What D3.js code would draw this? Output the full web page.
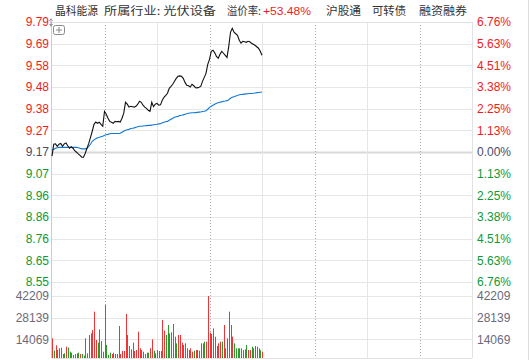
<!DOCTYPE html>
<html>
<head>
<meta charset="utf-8">
<script src="https://cdn.jsdelivr.net/npm/d3@7/dist/d3.min.js"></script>
<style>
  html, body { margin: 0; padding: 0; background: #fff; }
  svg { display: block; }
</style>
</head>
<body>
<div id="chart"></div>
<script>
'use strict'

// header texts
const stockName = '晶科能源'
const industry = '所属行业: 光伏设备'
const premiumLabel = '溢价率:'
const premiumValue = '+53.48%'
const tags = ['沪股通', '可转债', '融资融券']

// axis labels, top to bottom
const priceLabels = ['9.79', '9.69', '9.58', '9.48', '9.38', '9.27', '9.17', '9.07', '8.96', '8.86', '8.76', '8.65', '8.55']
const pctLabels = ['6.76%', '5.63%', '4.51%', '3.38%', '2.25%', '1.13%', '0.00%', '1.13%', '2.25%', '3.38%', '4.51%', '5.63%', '6.76%']
const volLabels = ['42209', '28139', '14069']
const prevClose = 9.17
const priceMin = 8.55, priceMax = 9.79
const volMax = 42209

// one point per minute, 9:30 -> 11:30
const prices = [
  9.150, 9.207, 9.209, 9.197, 9.207, 9.211, 9.197, 9.209, 9.213, 9.200,
  9.188, 9.195, 9.188, 9.176, 9.169, 9.161, 9.154, 9.145, 9.145, 9.164,
  9.188, 9.211, 9.240, 9.269, 9.302, 9.313, 9.307, 9.312, 9.302, 9.293,
  9.364, 9.350, 9.331, 9.316, 9.312, 9.307, 9.316, 9.314, 9.316, 9.313,
  9.331, 9.355, 9.407, 9.398, 9.384, 9.388, 9.386, 9.384, 9.388, 9.398,
  9.412, 9.407, 9.393, 9.384, 9.378, 9.369, 9.364, 9.407, 9.386, 9.398,
  9.402, 9.393, 9.395, 9.417, 9.431, 9.440, 9.450, 9.474, 9.483, 9.493,
  9.507, 9.521, 9.531, 9.533, 9.531, 9.521, 9.502, 9.488, 9.486, 9.480,
  9.493, 9.486, 9.477, 9.476, 9.479, 9.483, 9.507, 9.526, 9.545, 9.588,
  9.612, 9.650, 9.655, 9.643, 9.626, 9.617, 9.636, 9.650, 9.641, 9.631,
  9.621, 9.674, 9.741, 9.760, 9.741, 9.734, 9.727, 9.703, 9.689, 9.698,
  9.696, 9.693, 9.698, 9.696, 9.689, 9.684, 9.679, 9.672, 9.665, 9.650,
  9.631
]
const avgPrices = [
  9.178, 9.183, 9.188, 9.190, 9.192, 9.192, 9.192, 9.192, 9.192, 9.192,
  9.192, 9.192, 9.192, 9.192, 9.192, 9.190, 9.188, 9.185, 9.185, 9.185,
  9.188, 9.197, 9.207, 9.221, 9.228, 9.233, 9.238, 9.240, 9.243, 9.245,
  9.250, 9.252, 9.254, 9.257, 9.258, 9.258, 9.258, 9.258, 9.258, 9.259,
  9.264, 9.269, 9.274, 9.276, 9.278, 9.282, 9.283, 9.285, 9.288, 9.290,
  9.293, 9.293, 9.294, 9.295, 9.296, 9.297, 9.297, 9.298, 9.300, 9.301,
  9.302, 9.304, 9.305, 9.309, 9.312, 9.314, 9.316, 9.321, 9.326, 9.331,
  9.336, 9.338, 9.340, 9.344, 9.345, 9.347, 9.350, 9.352, 9.355, 9.356,
  9.357, 9.357, 9.358, 9.359, 9.360, 9.361, 9.363, 9.364, 9.367, 9.374,
  9.383, 9.388, 9.393, 9.398, 9.402, 9.405, 9.408, 9.409, 9.412, 9.413,
  9.415, 9.419, 9.426, 9.431, 9.434, 9.437, 9.439, 9.443, 9.444, 9.445,
  9.446, 9.447, 9.448, 9.449, 9.449, 9.450, 9.451, 9.453, 9.454, 9.455,
  9.456
]
const volumes = [
  14720, 6700, 10170, 7140, 8230, 8660, 4550, 5000, 9310, 8660,
  6060, 5410, 3900, 4550, 4980, 5410, 4550, 4550, 3500, 14720,
  4980, 16880, 17970, 20130, 32040, 13640, 11910, 20560, 12990, 6060,
  36370, 10390, 4000, 5410, 4550, 5410, 4550, 4550, 22730, 4550,
  6490, 6490, 30520, 16880, 9740, 7580, 11910, 6490, 7140, 19050,
  8230, 7140, 6060, 4550, 5410, 5410, 8230, 14070, 6700, 4980,
  7140, 6490, 6490, 26630, 19700, 16880, 23380, 17970, 18620, 24030,
  15800, 11470, 16880, 16880, 11910, 10390, 11470, 8230, 7140, 8230,
  6060, 6700, 7140, 7140, 6700, 11470, 11470, 12550, 12550, 42209,
  18400, 17530, 21210, 15800, 9740, 11470, 12550, 12550, 23380, 8230,
  14720, 32040, 23380, 15800, 11470, 8230, 8230, 8230, 8230, 7140,
  7580, 10390, 7140, 7140, 9310, 8230, 9740, 9310, 8230, 7000,
  6000
]
// u = up tick (red), d = down tick (green)
const volDir = (
  'ududduddud' + 'dduddduddd' + 'uuuuuuduud' + 'udddudduuu' +
  'uuuddduuuu' + 'uddudduudd' + 'uuuuudduud' + 'uduuudduuu' +
  'ududuuuduu' + 'uuudduudud' + 'uuuuddddud' + 'uduuddudud' + 'u'
).split('')

const W = 531, H = 360
const plotL = 52, plotR = 472
const priceTop = 22, priceBot = 282
const volTop = 296, volZero = 361, volBot = 358

const svg = d3.select('#chart').append('svg')
  .attr('width', W).attr('height', H)
  .style('font-family', '"Liberation Sans", Arial, sans-serif')

svg.append('rect').attr('width', W).attr('height', H).attr('fill', '#fff')

const x = d3.scaleLinear().domain([0, 240]).range([plotL, plotR])
const y = d3.scaleLinear().domain([priceMin, priceMax]).range([priceBot, priceTop])
const yv = d3.scaleLinear().domain([0, volMax]).range([volZero, volTop])

const RED = '#f01c1c', GREEN = '#0d9a35', MID = '#4b4b68'
const gridColor = '#e6e6e6'

// ---- header, each piece squeezed to the width it takes in the original
const header = svg.append('g').attr('font-family', '"Noto Sans CJK SC", sans-serif')
  .attr('font-size', 11.5).attr('fill', '#333')
const headPiece = (txt, x0, w, fill, fam) => header.append('text')
  .attr('x', x0).attr('y', 15).attr('textLength', w).attr('lengthAdjust', 'spacingAndGlyphs')
  .attr('fill', fill || null).attr('font-family', fam || null).text(txt)
headPiece(stockName, 55, 43)
headPiece(industry, 104, 112)
headPiece(premiumLabel, 227, 34)
headPiece(premiumValue, 263, 48, RED, '"Liberation Sans", Arial, sans-serif')
headPiece(tags[0], 326, 35)
headPiece(tags[1], 372, 34)
headPiece(tags[2], 419, 48)

// ---- price grid
const nPrice = priceLabels.length
const tickVal = k => priceMax - k * (priceMax - priceMin) / (nPrice - 1)
const grid = svg.append('g')
for (let k = 0; k < nPrice; k++) {
  const yy = Math.round(y(tickVal(k))) + 0.5
  const zero = k === 6
  grid.append('line')
    .attr('x1', plotL).attr('x2', plotR).attr('y1', yy).attr('y2', yy)
    .attr('stroke', zero ? '#d9d9d9' : gridColor)
    .attr('stroke-width', zero ? 2 : 1)
}
// volume grid
const nVol = volLabels.length
for (let k = 0; k < nVol; k++) {
  const yy = Math.round(yv(volMax * (nVol - k) / nVol)) + 0.5
  grid.append('line')
    .attr('x1', plotL).attr('x2', plotR).attr('y1', yy).attr('y2', yy)
    .attr('stroke', gridColor)
}
// vertical time lines, every 30 minutes
for (let m = 30; m < 240; m += 30) {
  const xx = Math.round(x(m)) + 0.5
  const dotted = (m / 30) % 2 === 1
  grid.append('line')
    .attr('x1', xx).attr('x2', xx).attr('y1', priceTop).attr('y2', volBot)
    .attr('stroke', dotted ? '#aaa' : gridColor)
    .attr('stroke-dasharray', dotted ? '1,2' : null)
}
// borders
const border = svg.append('g').attr('stroke', '#ccc').attr('fill', 'none')
border.append('line').attr('x1', plotL - 0.5).attr('x2', plotL - 0.5).attr('y1', priceTop).attr('y2', volBot)
border.append('line').attr('x1', plotR + 0.5).attr('x2', plotR + 0.5).attr('y1', priceTop).attr('y2', volBot)
  .attr('stroke', '#e2e2e2')
border.append('line').attr('x1', plotL).attr('x2', plotR).attr('y1', priceTop + 0.5).attr('y2', priceTop + 0.5)
  .attr('stroke', '#e2e2e2')
border.append('line').attr('x1', plotL).attr('x2', plotR).attr('y1', volBot + 0.5).attr('y2', volBot + 0.5)
  .attr('stroke', '#e2e2e2')
border.append('line').attr('x1', W - 2.5).attr('x2', W - 2.5).attr('y1', 0).attr('y2', H)
  .attr('stroke', '#ddd')

// ---- axis labels
const labels = svg.append('g').attr('font-size', 12)
priceLabels.forEach((t, k) => {
  const yy = y(tickVal(k))
  const c = k < 6 ? RED : (k === 6 ? MID : GREEN)
  labels.append('text').attr('x', 49).attr('y', yy).attr('dy', '0.36em')
    .attr('text-anchor', 'end').attr('fill', c).text(t)
})
pctLabels.forEach((t, k) => {
  const yy = y(tickVal(k))
  const c = k < 6 ? RED : (k === 6 ? MID : GREEN)
  labels.append('text').attr('x', 477).attr('y', yy).attr('dy', '0.36em')
    .attr('fill', c).text(t)
})
volLabels.forEach((t, k) => {
  const yy = yv(volMax * (nVol - k) / nVol)
  labels.append('text').attr('x', 49).attr('y', yy).attr('dy', '0.36em')
    .attr('text-anchor', 'end').attr('fill', '#6a6a7a').text(t)
  labels.append('text').attr('x', 477).attr('y', yy).attr('dy', '0.36em')
    .attr('fill', '#6a6a7a').text(t)
})

// ---- volume bars
svg.append('clipPath').attr('id', 'volclip').append('rect')
  .attr('x', plotL).attr('y', volTop - 2).attr('width', plotR - plotL).attr('height', volBot - volTop + 2)
svg.append('g').attr('clip-path', 'url(#volclip)')
  .selectAll('rect').data(volumes).join('rect')
  .attr('x', (d, i) => Math.round(x(i)))
  .attr('width', 1)
  .attr('y', d => yv(d))
  .attr('height', d => volZero - yv(d))
  .attr('fill', (d, i) => volDir[i] === 'd' ? '#2a9a2a' : '#ee3434')

// ---- lines
const line = d3.line().x((d, i) => x(i)).y(d => y(d))
svg.append('path').datum(avgPrices).attr('d', line)
  .attr('fill', 'none').attr('stroke', '#1278d0').attr('stroke-width', 1.1)
svg.append('path').datum(prices).attr('d', line)
  .attr('fill', 'none').attr('stroke', '#111').attr('stroke-width', 1.1)

// ---- small icons
const icon = svg.append('g').attr('fill', 'none').attr('stroke', '#888')
icon.append('rect').attr('x', 53.5).attr('y', 25.5).attr('width', 11).attr('height', 9).attr('rx', 2)
icon.append('line').attr('x1', 56).attr('x2', 62).attr('y1', 30).attr('y2', 30)
icon.append('line').attr('x1', 59).attr('x2', 59).attr('y1', 27).attr('y2', 33)
svg.append('path').attr('d', 'M51,18 l-2,3 h4 z M51,27 l-2,-3 h4 z M50.5,20 h1 v5 h-1 z').attr('fill', '#999')
</script>
</body>
</html>
